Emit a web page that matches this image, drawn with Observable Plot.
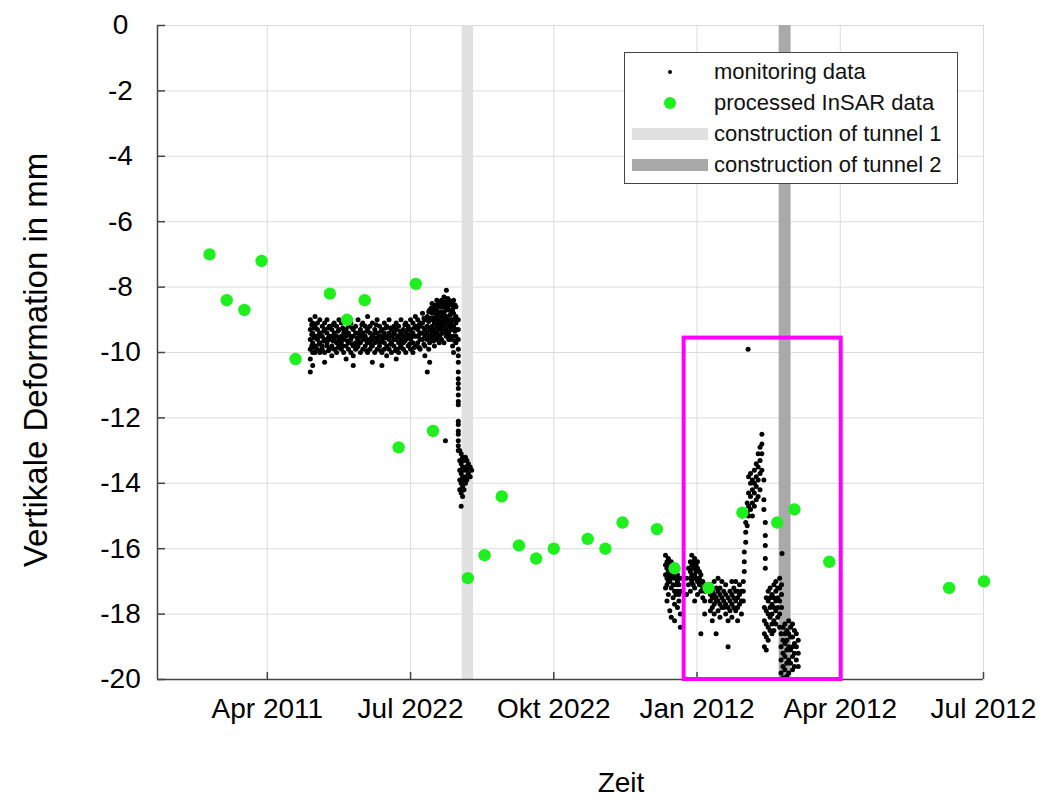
<!DOCTYPE html>
<html>
<head>
<meta charset="utf-8">
<script src="https://cdn.jsdelivr.net/npm/d3@7"></script>
<script src="https://cdn.jsdelivr.net/npm/@observablehq/plot@0.6"></script>
<style>
  body { margin: 0; background: #fff; font-family: "Liberation Sans", Arial, sans-serif; }
  #wrap { position: relative; width: 1050px; height: 801px; overflow: hidden; }
  #wrap svg { position: absolute; left: 0; top: 0; }
  .ytitle { position: absolute; left: 36px; top: 360px; transform: translate(-50%, -50%) rotate(-90deg); font-size: 33px; white-space: nowrap; color: #000; }
  .xtitle { position: absolute; left: 621px; top: 783px; transform: translate(-50%, -50%); font-size: 28px; color: #000; }
  #legend { position: absolute; left: 624px; top: 52px; width: 334px; height: 132px; box-sizing: border-box; border: 1.5px solid #444; background: #fff; }
  .li { position: absolute; left: 89px; font-size: 22px; line-height: 22px; white-space: nowrap; color: #111; }
  .sw { position: absolute; left: 7px; width: 76px; height: 12px; }
  .mk { position: absolute; border-radius: 50%; }
</style>
</head>
<body>
<div id="wrap"></div>
<script>
// ---- axes ----
const xTicks = [0, 3, 6, 9, 12, 15];
const xTickLabels = ["Apr 2011", "Jul 2022", "Okt 2022", "Jan 2012", "Apr 2012", "Jul 2012"];
const xDomain = [-2.3, 15];
const yTicks = [0, -2, -4, -6, -8, -10, -12, -14, -16, -18, -20];
const yDomain = [-20, 0];

// ---- processed InSAR data (x in months from first tick, y in mm) ----
const insarX = [-1.21, -0.85, -0.48, -0.12, 0.59, 1.31, 1.67, 2.04, 2.75, 3.11, 3.47, 4.20, 4.55, 4.91, 5.27, 5.63, 6.00, 6.71, 7.08, 7.44, 8.16, 8.53, 9.24, 9.95, 10.68, 11.04, 11.77, 14.28, 15.01];
const insarY = [-7.0, -8.4, -8.7, -7.2, -10.2, -8.2, -9.0, -8.4, -12.9, -7.9, -12.4, -16.9, -16.2, -14.4, -15.9, -16.3, -16.0, -15.7, -16.0, -15.2, -15.4, -16.6, -17.2, -14.9, -15.2, -14.8, -16.4, -17.2, -17.0];

// ---- construction periods ----
const tunnel1 = [4.08, 4.32];
const tunnel2 = [10.72, 10.97];

// ---- highlighted window ----
const focusX = [8.73, 12.02];
const focusY = [-20, -9.56];

// ---- monitoring data: [x, [y values read at that x]] ----
const monBefore = [
  [0.90, [-9.0, -9.3, -9.6, -9.9, -10.2, -10.6]],
  [0.93, [-9.15, -9.45, -9.8]],
  [0.95, [-9.1, -9.4, -9.7, -10.0, -10.4]],
  [0.98, [-9.25, -9.55, -9.85]],
  [1.00, [-8.9, -9.2, -9.5, -9.8, -10.0]],
  [1.05, [-9.1, -9.3, -9.6, -9.9]],
  [1.08, [-9.45, -9.75]],
  [1.10, [-9.0, -9.4, -9.5, -9.7, -10.0]],
  [1.15, [-9.2, -9.5, -9.8, -9.9]],
  [1.18, [-9.35, -9.65]],
  [1.20, [-9.1, -9.3, -9.6, -10.0, -10.3]],
  [1.25, [-9.0, -9.4, -9.7, -9.8]],
  [1.28, [-9.25, -9.55, -9.95]],
  [1.30, [-9.2, -9.5, -9.6, -9.9]],
  [1.35, [-9.3, -9.5, -9.8, -10.1]],
  [1.38, [-9.15, -9.65]],
  [1.40, [-9.1, -9.4, -9.6, -9.9]],
  [1.45, [-9.2, -9.5, -9.7, -10.0]],
  [1.48, [-9.35, -9.85]],
  [1.50, [-9.0, -9.3, -9.6, -9.8]],
  [1.55, [-9.1, -9.5, -9.7, -9.9]],
  [1.58, [-9.25, -9.55, -9.8]],
  [1.60, [-9.3, -9.4, -9.6, -10.0]],
  [1.65, [-9.0, -9.3, -9.5, -9.8, -10.2]],
  [1.68, [-9.45, -9.65]],
  [1.70, [-9.2, -9.4, -9.7, -9.9]],
  [1.75, [-9.1, -9.5, -9.6, -10.0]],
  [1.78, [-9.25, -9.75]],
  [1.80, [-9.3, -9.5, -9.8, -10.1, -10.4]],
  [1.85, [-9.2, -9.4, -9.7, -9.9]],
  [1.88, [-9.55, -9.85]],
  [1.90, [-9.0, -9.4, -9.6, -9.8]],
  [1.95, [-9.3, -9.5, -9.7, -10.0]],
  [1.98, [-9.15, -9.45]],
  [2.00, [-9.1, -9.4, -9.6, -9.9]],
  [2.05, [-9.2, -9.5, -9.8]],
  [2.08, [-9.35, -9.65, -9.95]],
  [2.10, [-8.9, -9.3, -9.6, -9.7, -10.0]],
  [2.15, [-9.2, -9.4, -9.7, -9.9]],
  [2.18, [-9.55, -9.8]],
  [2.20, [-9.1, -9.5, -9.6, -9.8, -10.3]],
  [2.25, [-9.3, -9.4, -9.7, -10.0]],
  [2.28, [-9.15, -9.55]],
  [2.30, [-9.0, -9.4, -9.6, -9.9]],
  [2.35, [-9.2, -9.5, -9.7, -9.8]],
  [2.38, [-9.35, -9.95]],
  [2.40, [-9.3, -9.5, -9.6, -10.0, -10.4]],
  [2.45, [-9.1, -9.4, -9.7, -9.9]],
  [2.48, [-9.25, -9.55]],
  [2.50, [-9.2, -9.5, -9.8, -10.1]],
  [2.55, [-9.0, -9.4, -9.6, -9.9]],
  [2.58, [-9.25, -9.75]],
  [2.60, [-9.3, -9.5, -9.7, -10.0]],
  [2.65, [-9.2, -9.4, -9.6, -9.8]],
  [2.68, [-9.45, -9.95]],
  [2.70, [-9.1, -9.3, -9.6, -9.9, -10.2]],
  [2.75, [-9.2, -9.5, -9.7, -10.0]],
  [2.78, [-9.35, -9.85]],
  [2.80, [-9.0, -9.4, -9.6, -9.8]],
  [2.85, [-9.3, -9.5, -9.7, -9.9]],
  [2.88, [-9.15, -9.65]],
  [2.90, [-9.1, -9.4, -9.6, -10.0]],
  [2.95, [-9.2, -9.3, -9.5, -9.8]],
  [2.98, [-9.45, -9.75]],
  [3.00, [-9.0, -9.3, -9.6, -9.9]],
  [3.05, [-9.1, -9.4, -9.5, -9.7, -10.0]],
  [3.08, [-9.25, -9.85]],
  [3.10, [-8.9, -9.2, -9.5, -9.8]],
  [3.15, [-9.0, -9.3, -9.5, -9.7]],
  [3.18, [-9.15, -9.45, -9.85]],
  [3.20, [-9.1, -9.2, -9.4, -9.6, -9.9]],
  [3.25, [-8.8, -9.1, -9.4, -9.6]],
  [3.28, [-8.95, -9.25, -9.75]],
  [3.30, [-9.0, -9.3, -9.5, -9.8, -10.1]],
  [3.35, [-8.9, -9.2, -9.4, -9.6, -10.6]],
  [3.38, [-8.75, -9.05, -9.55, -9.9]],
  [3.40, [-8.7, -9.0, -9.3, -9.5, -9.7, -10.3]],
  [3.43, [-8.65, -8.95, -9.25, -9.5]],
  [3.45, [-8.5, -8.8, -9.0, -9.2, -9.4, -9.6]],
  [3.48, [-8.7, -8.95, -9.35, -9.65]],
  [3.50, [-8.6, -8.8, -9.1, -9.3, -9.5, -9.8]],
  [3.53, [-8.55, -9.0, -9.4]],
  [3.55, [-8.4, -8.7, -8.9, -9.2, -9.4, -9.6]],
  [3.58, [-8.6, -8.85, -9.15, -9.5]],
  [3.60, [-8.5, -8.8, -9.0, -9.1, -9.3, -9.5, -9.7]],
  [3.63, [-8.45, -8.75, -9.2, -9.45]],
  [3.65, [-8.4, -8.6, -8.9, -9.1, -9.3, -9.6]],
  [3.68, [-8.5, -8.75, -9.05, -9.35]],
  [3.70, [-8.3, -8.6, -8.8, -9.0, -9.2, -9.4, -9.7]],
  [3.73, [-12.7, -8.45, -8.95]],
  [3.75, [-8.1, -8.5, -8.7, -8.9, -9.1, -9.3, -9.5]],
  [3.78, [-8.35, -8.6, -9.05, -9.4]],
  [3.80, [-8.4, -8.7, -9.0, -9.2, -9.4, -9.6]],
  [3.83, [-8.55, -8.85, -9.15, -9.5]],
  [3.85, [-8.5, -8.8, -9.0, -9.1, -9.3, -9.6]],
  [3.88, [-8.45, -8.7, -9.25, -9.8]],
  [3.90, [-8.4, -8.6, -8.8, -9.0, -9.2, -9.5, -10.0]],
  [3.93, [-8.55, -8.95, -9.35, -9.65]],
  [3.95, [-8.6, -8.9, -9.1, -9.3, -9.5, -9.7]],
  [4.00, [-9.0, -9.3, -9.6, -9.9, -10.1, -10.3, -10.6, -10.8, -10.95, -11.1, -11.3, -11.5, -11.6, -12.1, -12.2, -12.4, -12.5, -12.7, -12.85, -13.0]],
  [4.03, [-13.0, -13.3, -13.6, -13.9, -14.2]],
  [4.06, [-13.1, -13.4, -13.7, -14.0, -14.3, -14.7]],
  [4.09, [-13.2, -13.5, -13.8, -14.1, -14.4]],
  [4.12, [-13.3, -13.6, -13.9, -14.2]],
  [4.15, [-13.2, -13.5, -13.8, -14.0]],
  [4.18, [-13.3, -13.6, -13.9]],
  [4.21, [-13.4, -13.7]],
  [4.25, [-13.5, -13.8]],
  [4.28, [-13.6]]
];

const monAfter = [
  [8.34, [-16.2, -16.5, -16.8, -17.2]],
  [8.37, [-16.4, -16.6, -16.9, -17.1, -17.6]],
  [8.40, [-16.3, -16.5, -16.7, -17.0, -17.4]],
  [8.43, [-16.5, -16.6, -16.8, -17.0, -17.9]],
  [8.46, [-16.4, -16.7, -16.9, -17.2, -18.1]],
  [8.50, [-16.6, -16.8, -17.1, -17.5]],
  [8.53, [-16.7, -16.9, -17.3, -17.7, -18.2]],
  [8.56, [-16.9, -17.1, -17.4]],
  [8.59, [-16.8, -17.0, -17.3, -17.8]],
  [8.62, [-17.1, -17.4, -17.6]],
  [8.65, [-16.9, -17.3, -18.0, -18.4]],
  [8.78, [-16.9, -17.4]],
  [8.82, [-16.6, -17.1]],
  [8.86, [-16.4, -16.7, -16.9, -17.3]],
  [8.89, [-16.2, -16.5, -16.8, -17.0]],
  [8.92, [-16.4, -16.6, -16.9, -17.1]],
  [8.95, [-16.3, -16.6, -16.8, -17.2, -17.6]],
  [8.98, [-16.5, -16.7, -16.9]],
  [9.01, [-16.4, -16.6, -17.0, -17.4]],
  [9.05, [-16.7, -16.9, -17.1]],
  [9.08, [-16.8, -17.0, -17.3, -18.6]],
  [9.12, [-17.0, -17.2, -17.5]],
  [9.16, [-17.1, -17.3, -17.6, -18.0]],
  [9.28, [-17.1, -17.4, -17.6, -17.9]],
  [9.32, [-17.3, -17.5, -17.8, -18.2]],
  [9.36, [-17.0, -17.4, -17.7, -18.0]],
  [9.40, [-17.2, -17.5, -17.6, -18.6]],
  [9.44, [-16.9, -17.3, -17.6, -17.9]],
  [9.48, [-17.2, -17.4, -17.7, -18.1]],
  [9.52, [-17.0, -17.5, -17.8]],
  [9.56, [-17.3, -17.6, -17.8]],
  [9.60, [-17.1, -17.4, -17.7, -18.0]],
  [9.65, [-17.5, -17.8, -18.2, -19.0]],
  [9.69, [-17.3, -17.6, -17.9]],
  [9.73, [-17.0, -17.4, -17.7, -18.1]],
  [9.77, [-17.2, -17.5, -17.8]],
  [9.81, [-17.0, -17.3, -17.6, -17.9]],
  [9.85, [-17.3, -17.5, -17.8, -18.2]],
  [9.89, [-17.1, -17.4, -17.7]],
  [9.93, [-17.3, -17.6, -18.0]],
  [9.97, [-17.6, -17.3, -17.0]],
  [9.99, [-16.7, -16.4, -16.1]],
  [10.02, [-15.8, -15.5, -15.2]],
  [10.05, [-14.9, -15.3, -14.6]],
  [10.08, [-14.3, -14.7, -15.0, -13.8]],
  [10.12, [-14.0, -14.4, -14.8, -13.7]],
  [10.16, [-13.9, -14.2, -14.6, -15.0]],
  [10.20, [-13.6, -14.0, -14.3, -14.7]],
  [10.24, [-13.4, -13.8, -14.1, -14.5]],
  [10.28, [-13.1, -13.5, -13.9, -14.4]],
  [10.32, [-12.9, -13.3, -13.7, -14.2]],
  [10.36, [-12.5, -12.8, -13.1, -13.6]],
  [10.40, [-13.9, -14.5, -14.8]],
  [10.43, [-15.2, -15.6, -15.9, -16.3, -16.6]],
  [10.41, [-17.8, -18.2, -18.6, -19.0]],
  [10.45, [-17.5, -17.9, -18.3, -18.7, -19.1]],
  [10.49, [-17.3, -17.6, -18.0, -18.4, -18.8]],
  [10.53, [-17.2, -17.5, -17.8, -18.1, -18.5]],
  [10.57, [-17.4, -17.7, -18.0, -18.3, -18.6]],
  [10.61, [-17.1, -17.5, -17.8, -18.2, -18.5]],
  [10.65, [-17.0, -17.3, -17.6, -17.9, -18.3]],
  [10.69, [-17.2, -17.5, -17.8, -18.1]],
  [10.73, [-16.9, -17.2, -17.6, -18.0, -18.4]],
  [10.77, [-17.1, -17.4, -17.8]],
  [10.78, [-16.15]],
  [10.76, [-18.6, -19.0, -19.4, -19.8]],
  [10.80, [-18.4, -18.8, -19.2, -19.6, -19.95]],
  [10.84, [-18.3, -18.6, -18.9, -19.3, -19.7]],
  [10.88, [-18.5, -18.8, -19.1, -19.5, -19.9]],
  [10.92, [-18.2, -18.6, -19.0, -19.4, -19.8]],
  [10.96, [-18.4, -18.7, -19.1, -19.5]],
  [11.00, [-18.3, -18.7, -19.0, -19.3, -19.7]],
  [11.04, [-18.5, -18.9, -19.2, -19.6]],
  [11.08, [-18.6, -19.0, -19.4]],
  [11.12, [-18.8, -19.2, -19.6]]
];
const monOutlier = [[10.07, [-9.9]]];

// ---- build tables ----
const monitoring = [...monBefore, ...monAfter, ...monOutlier].flatMap(([x, ys]) => ys.map(y => ({x, y})));
const insar = insarX.map((x, i) => ({x, y: insarY[i]}));

const plot = Plot.plot({
  width: 1050,
  height: 801,
  marginLeft: 157,
  marginRight: 67,
  marginTop: 25,
  marginBottom: 122,
  style: {fontFamily: "'Liberation Sans', Arial, sans-serif", fontSize: "28px", color: "#000", background: "transparent"},
  x: {domain: xDomain},
  y: {domain: yDomain},
  marks: [
    Plot.gridX(xTicks, {stroke: "#dcdcdc", strokeOpacity: 1, strokeWidth: 1}),
    Plot.gridY(yTicks, {stroke: "#dcdcdc", strokeOpacity: 1, strokeWidth: 1}),
    Plot.rect([tunnel1], {x1: d => d[0], x2: d => d[1], fill: "#e1e1e1"}),
    Plot.rect([tunnel2], {x1: d => d[0], x2: d => d[1], fill: "#a9a9a9"}),
    Plot.ruleX([xDomain[0]], {stroke: "#444", strokeWidth: 1.5}),
    Plot.ruleY([yDomain[0]], {stroke: "#444", strokeWidth: 1.5}),
    Plot.tickX(xTicks, {x: d => d, stroke: "#444", strokeWidth: 1.5, insetTop: 647}),
    Plot.tickY(yTicks, {y: d => d, stroke: "#444", strokeWidth: 1.5, insetRight: 818}),
    Plot.dot(monitoring, {x: "x", y: "y", r: 2.5, fill: "#000", stroke: null}),
    Plot.dot(insar, {x: "x", y: "y", r: 6.2, fill: "#1ef01e", stroke: null}),
    Plot.rect([0], {x1: () => focusX[0], x2: () => focusX[1], y1: () => focusY[0], y2: () => focusY[1], fill: "none", stroke: "#ff00ff", strokeWidth: 4}),
    Plot.axisX(xTicks, {tickSize: 0, tickPadding: 19, fontSize: 28, label: null, tickFormat: d => xTickLabels[xTicks.indexOf(d)]}),
    Plot.axisY(yTicks, {tickSize: 0, tickPadding: 37, fontSize: 28, textAnchor: "middle", label: null, tickFormat: d => String(d)})
  ]
});

const wrap = document.getElementById("wrap");
wrap.appendChild(plot);

const yt = document.createElement("div");
yt.className = "ytitle";
yt.textContent = "Vertikale Deformation in mm";
wrap.appendChild(yt);

const xt = document.createElement("div");
xt.className = "xtitle";
xt.textContent = "Zeit";
wrap.appendChild(xt);

// ---- legend ----
const legendItems = [
  {label: "monitoring data", kind: "dot", color: "#000", size: 4},
  {label: "processed InSAR data", kind: "dot", color: "#1ef01e", size: 12.4},
  {label: "construction of tunnel 1", kind: "band", color: "#e1e1e1"},
  {label: "construction of tunnel 2", kind: "band", color: "#a9a9a9"}
];
const legend = document.createElement("div");
legend.id = "legend";
legendItems.forEach((it, i) => {
  const cy = 19 + i * 31;
  if (it.kind === "dot") {
    const m = document.createElement("div");
    m.className = "mk";
    m.style.width = it.size + "px";
    m.style.height = it.size + "px";
    m.style.left = (45 - it.size / 2) + "px";
    m.style.top = (cy - it.size / 2) + "px";
    m.style.background = it.color;
    legend.appendChild(m);
  } else {
    const s = document.createElement("div");
    s.className = "sw";
    s.style.top = (cy - 6) + "px";
    s.style.background = it.color;
    legend.appendChild(s);
  }
  const t = document.createElement("div");
  t.className = "li";
  t.style.top = (cy - 11) + "px";
  t.textContent = it.label;
  legend.appendChild(t);
});
wrap.appendChild(legend);
</script>
</body>
</html>
